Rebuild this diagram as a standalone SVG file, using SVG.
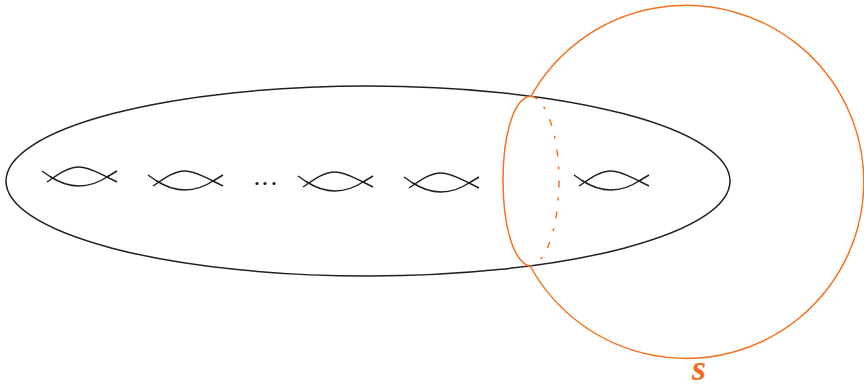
<svg xmlns="http://www.w3.org/2000/svg" width="864" height="388" viewBox="0 0 864 388">
<style>
.k{fill:none;stroke:#231f20;stroke-width:1.5}
.o{fill:none;stroke:#f47320;stroke-width:1.5}
.l{font-family:"Liberation Serif",serif;font-style:italic;font-weight:bold;fill:#f26a1b}
.d{fill:#231f20}
</style>
<defs>
<g id="h" class="k"><path d="M0 0L8 5.500C18 12 28 15 37 15C46 15 56 12 65 6L75 0"/><path d="M5 11L8 9C18 2 27-4 37-4C47-4 56 2 65 6L75 11"/></g>
</defs>
<rect width="864" height="388" fill="#fff"/>
<g id="surface"><ellipse class="k" cx="368" cy="181" rx="362" ry="95"/></g>
<g id="handles">
<use href="#h" x="42" y="171"/>
<use href="#h" x="148" y="175"/>
<use href="#h" x="298" y="176"/>
<use href="#h" x="404" y="177"/>
<use href="#h" x="574" y="175"/>
</g>
<g id="dots"><circle class="d" cx="257" cy="183.500" r="1.600"/><circle class="d" cx="265" cy="183.500" r="1.600"/><circle class="d" cx="274" cy="183.500" r="1.600"/></g>
<g id="sphere">
<path class="o" d="M531.200 96A177.500 176.500 0 1 1 530.500 266.500"/>
<path class="o" d="M531 96C512 98 503 140 503 180C503 222 512 262 530.500 266.500"/>
<path class="o" stroke-dasharray="7 10 3 11" d="M531 96C548 100 559 140 559 180C559 222 548 262 530.500 266.500"/>
</g>
<g id="label"><text class="l" x="692" y="380" font-size="36">s</text></g>
</svg>
